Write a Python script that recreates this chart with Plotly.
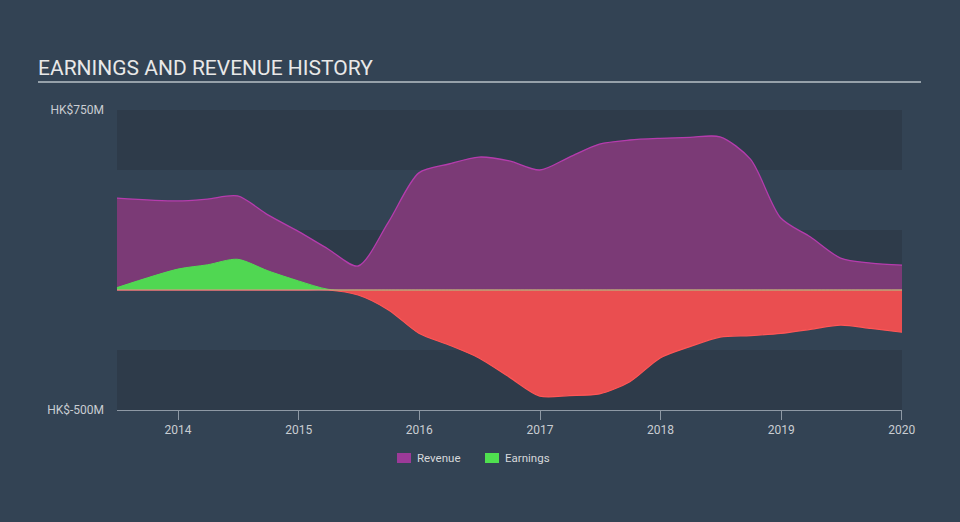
import numpy as np
import plotly.graph_objects as go

dates = ["2013-06-30", "2013-12-31", "2014-03-31", "2014-06-30", "2014-09-30",
         "2014-12-31", "2015-03-31", "2015-06-30", "2015-09-30", "2015-12-31",
         "2016-03-31", "2016-06-30", "2016-09-30", "2016-12-31", "2017-03-31",
         "2017-06-30", "2017-09-30", "2017-12-31", "2018-03-31", "2018-06-30",
         "2018-09-30", "2018-12-31", "2019-03-31", "2019-06-30", "2019-09-30",
         "2020-01-02"]
revenue = [383, 371, 379, 392, 313, 244, 171, 100, 283, 488, 525, 554, 538, 500,
           554, 608, 625, 632, 636, 638, 545, 300, 221, 133, 112, 104]
earnings = [10, 87, 105, 128, 80, 38, 3, -21, -83, -180, -229, -283, -363, -442,
            -440, -433, -382, -283, -236, -196, -190, -181, -164, -146, -160, -176]

y_tickvals = [750, -500]
y_ticktext = ["HK$750M", "HK$-500M"]
x_tickvals = ["2014-01-01", "2015-01-01", "2016-01-01", "2017-01-01",
              "2018-01-01", "2019-01-01", "2020-01-01"]
x_ticktext = ["2014", "2015", "2016", "2017", "2018", "2019", "2020"]
legend_names = ["Revenue", "Earnings"]
legend_colors = ["#9c3a98", "#4fe04f"]

e = np.array(earnings, dtype=float)
e_pos = np.maximum(e, 0)
e_neg = np.minimum(e, 0)

BG = "#334354"
BAND = "#2e3b4a"

# plot-area geometry (pixels) used to place paper-referenced decorations
L, R, T, B = 117, 902, 110, 410
PW, PH = R - L, B - T


def px(x):
    return (x - L) / PW


def py(y):
    return (B - y) / PH


fig = go.Figure()
fig.add_trace(go.Scatter(
    x=dates, y=revenue, mode="lines", fill="tozeroy",
    line=dict(color="#b53cad", width=1.3, shape="spline", smoothing=0.8),
    fillcolor="#7b3a76", showlegend=False, hoverinfo="skip"))
fig.add_trace(go.Scatter(
    x=dates, y=e_neg, mode="lines", fill="tozeroy",
    line=dict(color="#ff5656", width=1.2, shape="spline", smoothing=0.8),
    fillcolor="#ea4e50", showlegend=False, hoverinfo="skip"))
fig.add_trace(go.Scatter(
    x=dates, y=e_pos, mode="lines", fill="tozeroy",
    line=dict(color="#52da52", width=1, shape="spline", smoothing=0.8),
    fillcolor="#50d752", showlegend=False, hoverinfo="skip"))

shapes = []
for lo, hi in [(500, 750), (0, 250), (-500, -250)]:
    shapes.append(dict(type="rect", xref="paper", x0=0, x1=1, yref="y", y0=lo, y1=hi,
                       fillcolor=BAND, line=dict(width=0), layer="below"))
shapes.append(dict(type="line", xref="paper", x0=0, x1=1, yref="y", y0=0, y1=0,
                   line=dict(color="#f08a8c", width=1.2), layer="above"))
# title underline
shapes.append(dict(type="line", xref="paper", yref="paper",
                   x0=px(38), x1=px(921), y0=py(82), y1=py(82),
                   line=dict(color="#b9c0c7", width=1.5)))

annotations = [dict(text="EARNINGS AND REVENUE HISTORY", xref="paper", yref="paper",
                    x=px(36), y=py(68), xanchor="left", yanchor="middle",
                    showarrow=False, font=dict(size=21, color="#e8e8e8", family="Roboto"))]

# manual legend
swatch_x = [397, 485]
for name, col, sx in zip(legend_names, legend_colors, swatch_x):
    shapes.append(dict(type="rect", xref="paper", yref="paper",
                       x0=px(sx), x1=px(sx + 14), y0=py(463), y1=py(453),
                       fillcolor=col, line=dict(width=0)))
    annotations.append(dict(text=name, xref="paper", yref="paper",
                            x=px(sx + 18), y=py(458), xanchor="left", yanchor="middle",
                            showarrow=False,
                            font=dict(size=11.5, color="#d6d8db", family="Roboto")))

fig.update_layout(
    width=960, height=522,
    margin=dict(l=L, r=960 - R, t=T, b=522 - B),
    paper_bgcolor=BG, plot_bgcolor=BG,
    font=dict(family="Roboto, sans-serif", color="#d0d4d8"),
    shapes=shapes,
    annotations=annotations,
    showlegend=False,
)
fig.update_xaxes(
    type="date", range=["2013-06-30", "2020-01-02"],
    tickvals=x_tickvals, ticktext=x_ticktext,
    showgrid=False, zeroline=False,
    showline=True, linecolor="#8e99a5", linewidth=1,
    ticks="outside", ticklen=9, tickcolor="#8e99a5", tickwidth=1,
    tickfont=dict(size=12, color="#c9cdd2", family="Roboto"),
)
fig.update_yaxes(
    range=[-500, 750], tickvals=y_tickvals, ticktext=y_ticktext,
    showgrid=False, zeroline=False, showline=False, ticks="",
    ticklabelstandoff=12,
    tickfont=dict(size=12, color="#c9cdd2", family="Roboto"),
)

fig.write_html("out.html")
